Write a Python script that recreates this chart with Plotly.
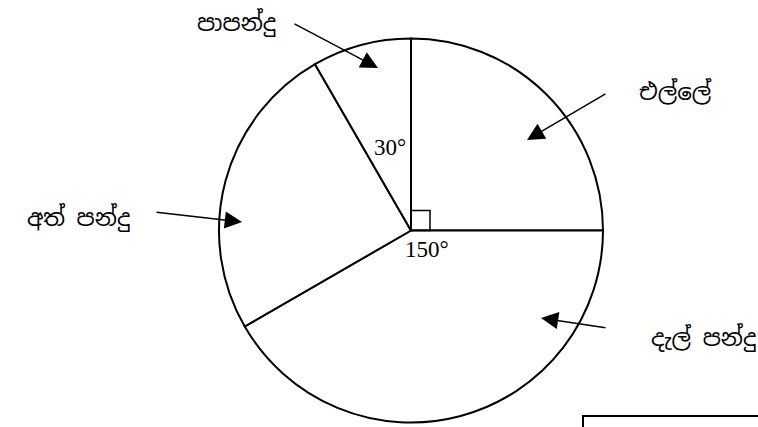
import plotly.graph_objects as go

# sports and their angles (degrees), clockwise from 12 o'clock
sports = ["එල්ලේ", "දැල් පන්දු", "අත් පන්දු", "පාපන්දු"]
angles = [90, 150, 90, 30]

# label text anchor (right edge, middle) and arrows, in pixels of the page
label_xy = [(714, 92), (758, 337), (132, 217), (278, 22)]
label_tail = [(607, 93), (607, 328), (155, 212), (293, 23)]
arrow_tip = [(527, 140), (541, 318), (242, 222), (378, 68)]

W, H = 758, 427
cx, cy, r = 411, 230.5, 192

fig = go.Figure()

fig.add_trace(go.Pie(
    labels=sports, values=angles, sort=False, direction="clockwise",
    rotation=0, textinfo="none", hoverinfo="label+value", showlegend=False,
    marker=dict(colors=["white"] * 4, line=dict(color="black", width=2)),
    domain=dict(x=[(cx - r) / W, (cx + r) / W],
                y=[(H - cy - r) / H, (H - cy + r) / H]),
))

# invisible pixel axes for the annotations
fig.add_trace(go.Scatter(x=[0, W], y=[0, H], mode="markers",
                         marker=dict(opacity=0), hoverinfo="skip",
                         showlegend=False))

sinhala_font = dict(family="Noto Sans Sinhala, Iskoola Pota, Noto Sans, sans-serif",
                    size=23, color="black")

for name, (lx, ly), (tx, ty), (ax, ay) in zip(sports, label_xy, label_tail, arrow_tip):
    fig.add_annotation(x=lx, y=ly, xref="x", yref="y", text=name,
                       xanchor="right", showarrow=False, font=sinhala_font)
    fig.add_annotation(x=ax, y=ay, ax=tx, ay=ty, xref="x", yref="y",
                       axref="x", ayref="y", text="", showarrow=True,
                       arrowhead=2, arrowsize=2.3, arrowwidth=1.5,
                       arrowcolor="black")

serif = dict(family="Liberation Serif, Times New Roman, serif", size=23,
             color="black")
fig.add_annotation(x=390, y=147, xref="x", yref="y", text="30°",
                   showarrow=False, font=serif)
fig.add_annotation(x=427, y=249, xref="x", yref="y", text="150°",
                   showarrow=False, font=serif)

# right-angle marker and the cut-off box at the bottom right
fig.add_shape(type="rect", x0=cx, y0=cy - 20, x1=cx + 19, y1=cy,
              xref="x", yref="y", line=dict(color="black", width=1.5))
fig.add_shape(type="rect", x0=583, y0=416, x1=W + 10, y1=H + 10,
              xref="x", yref="y", line=dict(color="black", width=2))

fig.update_layout(
    width=W, height=H, margin=dict(l=0, r=0, t=0, b=0),
    paper_bgcolor="white", plot_bgcolor="rgba(0,0,0,0)",
    xaxis=dict(range=[0, W], visible=False, fixedrange=True),
    yaxis=dict(range=[H, 0], visible=False, fixedrange=True),
)

fig.write_html("out.html", config={"displayModeBar": False},
               post_script="document.body.style.margin='0';")
